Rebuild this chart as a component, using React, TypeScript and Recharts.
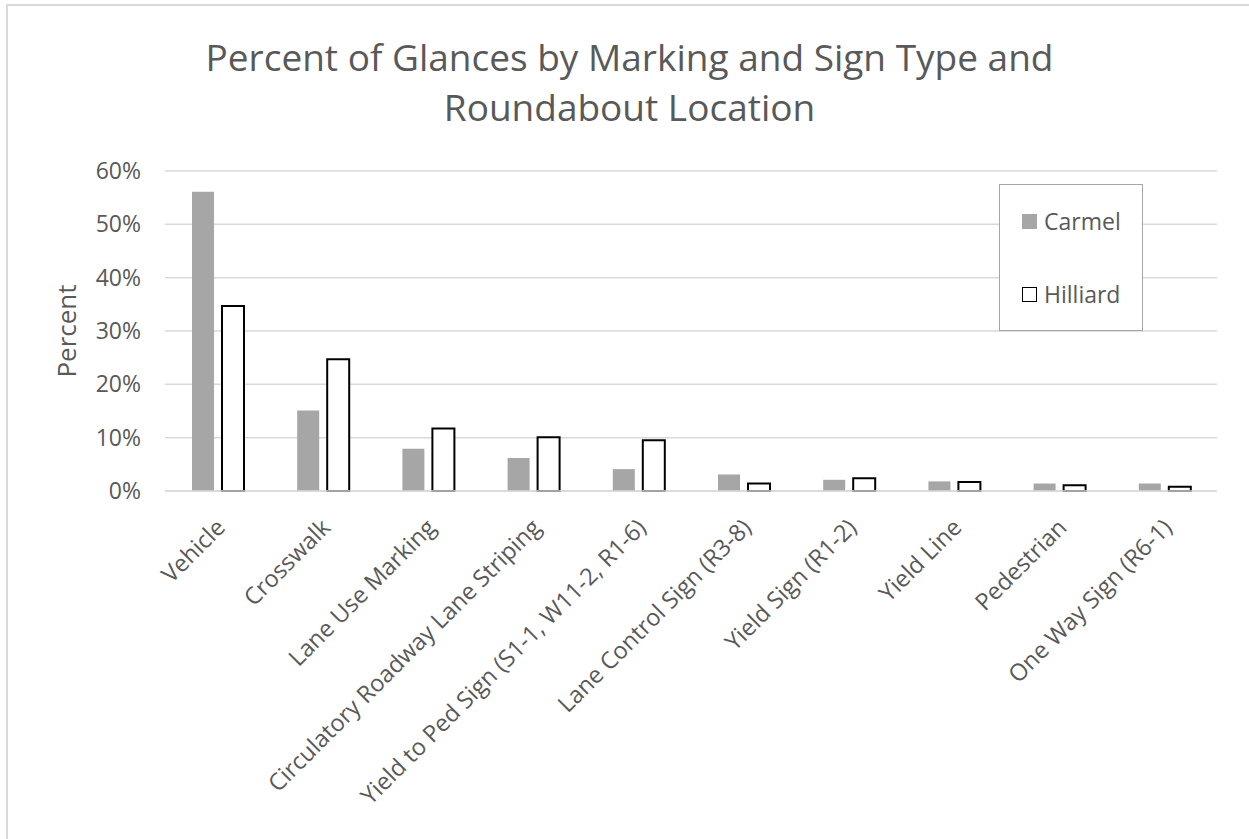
import { BarChart, Bar, XAxis, YAxis, CartesianGrid, Legend } from 'recharts';

const categories = [
  'Vehicle',
  'Crosswalk',
  'Lane Use Marking',
  'Circulatory Roadway Lane Striping',
  'Yield to Ped Sign (S1-1, W11-2, R1-6)',
  'Lane Control Sign (R3-8)',
  'Yield Sign (R1-2)',
  'Yield Line',
  'Pedestrian',
  'One Way Sign (R6-1)',
];
const carmel = [56.1, 15.1, 7.9, 6.2, 4.1, 3.1, 2.1, 1.8, 1.4, 1.4];
const hilliard = [34.7, 24.7, 11.7, 10.1, 9.5, 1.4, 2.4, 1.7, 1.1, 0.8];
const yTicks = [0, 10, 20, 30, 40, 50, 60];

const data = categories.map((name, i) => ({ name, carmel: carmel[i], hilliard: hilliard[i] }));

const FONT = '"Open Sans", sans-serif';
const TEXT = '#595959';

function CategoryTick({ x, y, payload }: { x?: number; y?: number; payload?: { value: string } }) {
  return (
    <g transform={`translate(${(x ?? 0) + 9},${(y ?? 0) + 30})`}>
      <text x={0} y={0} textAnchor="end" transform="rotate(-45)" fill={TEXT} fontSize={23.5} fontFamily={FONT}>
        {payload?.value}
      </text>
    </g>
  );
}

function PercentLabel({ viewBox }: { viewBox?: { x: number; y: number; width: number; height: number } }) {
  const vb = viewBox ?? { x: 0, y: 0, width: 0, height: 0 };
  const cx = vb.x + 66;
  const cy = vb.y + vb.height / 2;
  return (
    <text
      x={cx}
      y={cy}
      textAnchor="middle"
      dominantBaseline="central"
      transform={`rotate(-90, ${cx}, ${cy})`}
      fill={TEXT}
      fontSize={26}
      fontFamily={FONT}
    >
      Percent
    </text>
  );
}

function LegendBox() {
  const item = (label: string, fill: string, stroke: string) => (
    <div style={{ display: 'flex', alignItems: 'center', height: 26 }}>
      <span
        style={{
          display: 'inline-block',
          width: 15,
          height: 15,
          background: fill,
          border: stroke === 'none' ? 'none' : `1.5px solid ${stroke}`,
          boxSizing: 'border-box',
          marginRight: 7,
        }}
      />
      <span style={{ fontSize: 23, color: TEXT, fontFamily: FONT }}>{label}</span>
    </div>
  );
  return (
    <div
      style={{
        width: 144,
        height: 147,
        boxSizing: 'border-box',
        border: '1.5px solid #a6a6a6',
        background: '#fff',
        padding: '23px 0 0 22px',
      }}
    >
      {item('Carmel', '#a6a6a6', 'none')}
      <div style={{ height: 47 }} />
      {item('Hilliard', '#fff', '#000')}
    </div>
  );
}

export default function App() {
  return (
    <div style={{ position: 'absolute', left: 0, top: 0, width: 1249, height: 839, background: '#fff', overflow: 'hidden' }}>
      <div
        style={{
          position: 'absolute',
          left: 6,
          top: 4,
          width: 1250,
          height: 850,
          border: '2px solid #d9d9d9',
          boxSizing: 'border-box',
        }}
      />
      <div
        style={{
          position: 'absolute',
          left: 8,
          width: 1243,
          top: 32,
          textAlign: 'center',
          fontFamily: FONT,
          fontSize: 37,
          lineHeight: '50px',
          color: TEXT,
        }}
      >
        Percent of Glances by Marking and Sign Type and
        <br />
        Roundabout Location
      </div>
      <BarChart
        width={1249}
        height={839}
        data={data}
        margin={{ top: 171, right: 32, bottom: 0, left: 0 }}
        barSize={22}
        barGap={8}
        style={{ position: 'absolute', left: 0, top: 0 }}
      >
        <CartesianGrid vertical={false} stroke="#d9d9d9" strokeWidth={1.5} />
        <XAxis
          dataKey="name"
          interval={0}
          height={348}
          axisLine={{ stroke: '#d9d9d9', strokeWidth: 1.5 }}
          tickLine={false}
          tick={<CategoryTick />}
        />
        <YAxis
          width={165}
          domain={[0, 60]}
          ticks={yTicks}
          tickFormatter={(v) => `${v}%`}
          axisLine={false}
          tickLine={false}
          tickMargin={18}
          tick={{ fill: TEXT, fontSize: 23, fontFamily: FONT }}
          label={<PercentLabel />}
        />
        <Legend
          layout="vertical"
          align="center"
          verticalAlign="middle"
          wrapperStyle={{ left: 999, top: 184, width: 144, height: 147 }}
          content={() => <LegendBox />}
        />
        <Bar dataKey="carmel" name="Carmel" fill="#a6a6a6" isAnimationActive={false} />
        <Bar dataKey="hilliard" name="Hilliard" fill="#fff" stroke="#000" strokeWidth={2} isAnimationActive={false} />
      </BarChart>
    </div>
  );
}
